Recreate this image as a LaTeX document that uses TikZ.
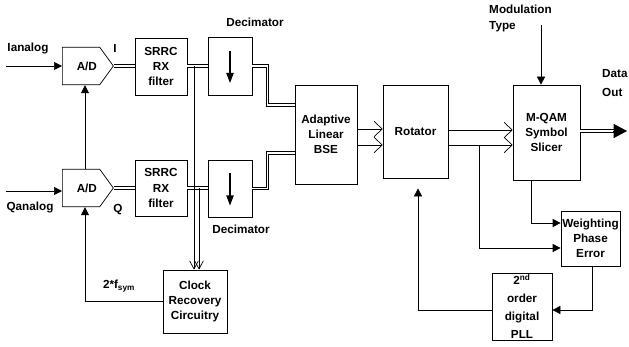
\documentclass[tikz,border=0pt]{standalone}
\usepackage{fontspec}
\setmainfont{Liberation Sans}
\usetikzlibrary{arrows.meta,positioning,calc,shapes.symbols}
\tikzset{
  blk/.style 2 args={draw, line width=0.6pt, minimum width=#1*0.03cm, minimum height=#2*0.03cm, inner sep=0pt, align=center},
  adc/.style={draw, line width=0.6pt, signal, signal to=east, signal pointer angle=108, minimum width=1.53cm, minimum height=1.13cm, inner sep=0pt, anchor=west},
  sigln/.style={-{Triangle[length=2.4mm,width=2.4mm]}, line width=0.6pt},
  busln/.style={double, double distance=1.1pt, line width=0.75pt},
  barbln/.style={-{Straight Barb[length=2.4mm,width=4.6mm]}, line width=0.6pt},
  tapln/.style={-{Straight Barb[length=2.4mm,width=2.6mm]}, line width=0.6pt},
  decarr/.style={-{Triangle[length=3mm,width=2.2mm]}, line width=0.9pt},
  lbl/.style={inner sep=0pt, align=left},
}

\begin{document}
\begin{tikzpicture}[x=0.03cm, y=-0.03cm, font=\bfseries\fontsize{10}{13}\selectfont]
    \useasboundingbox (0,0) rectangle (629,347);
    % converters and filters
    \node[adc] (adcI) at (62,66) {\hspace{0.35cm}A/D};
    \node[adc] (adcQ) at (62,188) {\hspace{0.35cm}A/D};
    \node[blk={52}{57}] (srrcI) at (161,66.5) {SRRC\\RX\\filter};
    \node[blk={52}{56}] (srrcQ) at (161,188) {SRRC\\RX\\filter};
    \node[blk={44}{58}] (decI) at (230,66) {};
    \node[blk={44}{57}] (decQ) at (230,188.5) {};
    \node[blk={64}{63}] (clock) at (195,301.5) {Clock\\Recovery\\Circuitry};
    % equalizer chain
    \node[blk={62}{99}] (bse) at (326,134.5) {Adaptive\\Linear\\BSE};
    \node[blk={65}{93}] (rot) at (415.5,131.5) {Rotator};
    \node[blk={67}{95}] (slicer) at (546.5,132.5) {M-QAM\\Symbol\\Slicer};
    \node[blk={59}{55}] (weight) at (590.5,238.5) {Weighting\\Phase\\Error};
    \node[blk={60}{67}, font=\bfseries\fontsize{10}{15.5}\selectfont] (pll) at (522,306.5) {2\textsuperscript{nd}\\order\\digital\\PLL};
    % labels
    \node[lbl] (txtIa) at (28,49) {Ianalog};
    \node[lbl] (txtQa) at (30,207) {Qanalog};
    \node[lbl] (txtI) at (115,48) {I};
    \node[lbl] (txtQ) at (118,210) {Q};
    \node[lbl] (txtDecI) at (255,22) {Decimator};
    \node[lbl] (txtDecQ) at (241,229) {Decimator};
    \node[lbl] (txtfs) at (119,286) {2*f\textsubscript{sym}};
    \node[lbl, anchor=west] (txtMod) at (489,18.5) {Modulation\\Type};
    \node[lbl, anchor=west, font=\bfseries\fontsize{10}{16}\selectfont] (txtOut) at (602,83) {Data\\Out};
    % inputs
    \coordinate (inI) at (6,66);
    \coordinate (inQ) at (6,191);
    \draw[sigln] (inI) -- (adcI.west);
    \draw[sigln] (inQ) -- (inQ -| adcQ.west);
    % I and Q buses
    \draw[busln] (adcI.east) -- (srrcI.west |- adcI.east);
    \draw[busln] (srrcI.east |- adcI.east) -- (decI.west |- adcI.east);
    \draw[busln] (adcQ.east) -- (srrcQ.west |- adcQ.east);
    \draw[busln] (srrcQ.east |- adcQ.east) -- (decQ.west |- adcQ.east);
    \draw[decarr] ($(decI.center)+(0,-15)$) -- ($(decI.center)+(0,17)$);
    \draw[decarr] ($(decQ.center)+(0,-15)$) -- ($(decQ.center)+(0,17)$);
    \draw[busln] (decI.east) -- ++(15,0) |- (bse.west |- 0,105);
    \draw[busln] (decQ.east) -- ++(15,0) |- (bse.west |- 0,153);
    % timing recovery
    \coordinate (tapI) at (194,66);
    \coordinate (tapQ) at (199,188);
    \draw[tapln] (tapI) -- (tapI |- clock.north);
    \draw[tapln] (tapQ) -- (tapQ |- clock.north);
    \draw[sigln] (clock.west) -| (adcQ.south -| 85,0);
    \draw[sigln] (adcQ.north -| 85,0) -- (adcI.south -| 85,0);
    % equalizer to slicer
    \draw[barbln] (bse.east |- 0,129) -- (rot.west |- 0,129);
    \draw[barbln] (bse.east |- 0,145) -- (rot.west |- 0,145);
    \draw[barbln] (rot.east |- 0,130) -- (slicer.west |- 0,130);
    \draw[barbln] (rot.east |- 0,145) -- (slicer.west |- 0,145);
    % carrier loop
    \coordinate (tapP) at (479,145);
    \draw[sigln] (tapP) |- (weight.west |- 0,248);
    \draw[sigln] (slicer.south -| 531,0) |- (weight.west |- 0,223);
    \draw[sigln] (weight.south -| 592,0) |- (pll.east |- 0,310);
    \draw[sigln, shorten >=0.3cm] (pll.west |- 0,310) -| (rot.south -| 418,0);
    % modulation type and output
    \coordinate (mod) at (541,25);
    \draw[sigln] (mod) -- (mod |- slicer.north);
    \coordinate (dout) at (627,131);
    \draw[busln] (slicer.east |- dout) -- ($(dout)+(-12,0)$);
    \draw[-{Triangle[length=0.4cm,width=0.42cm]}, line width=0.6pt] ($(dout)+(-14,0)$) -- (dout);
\end{tikzpicture}
\end{document}
